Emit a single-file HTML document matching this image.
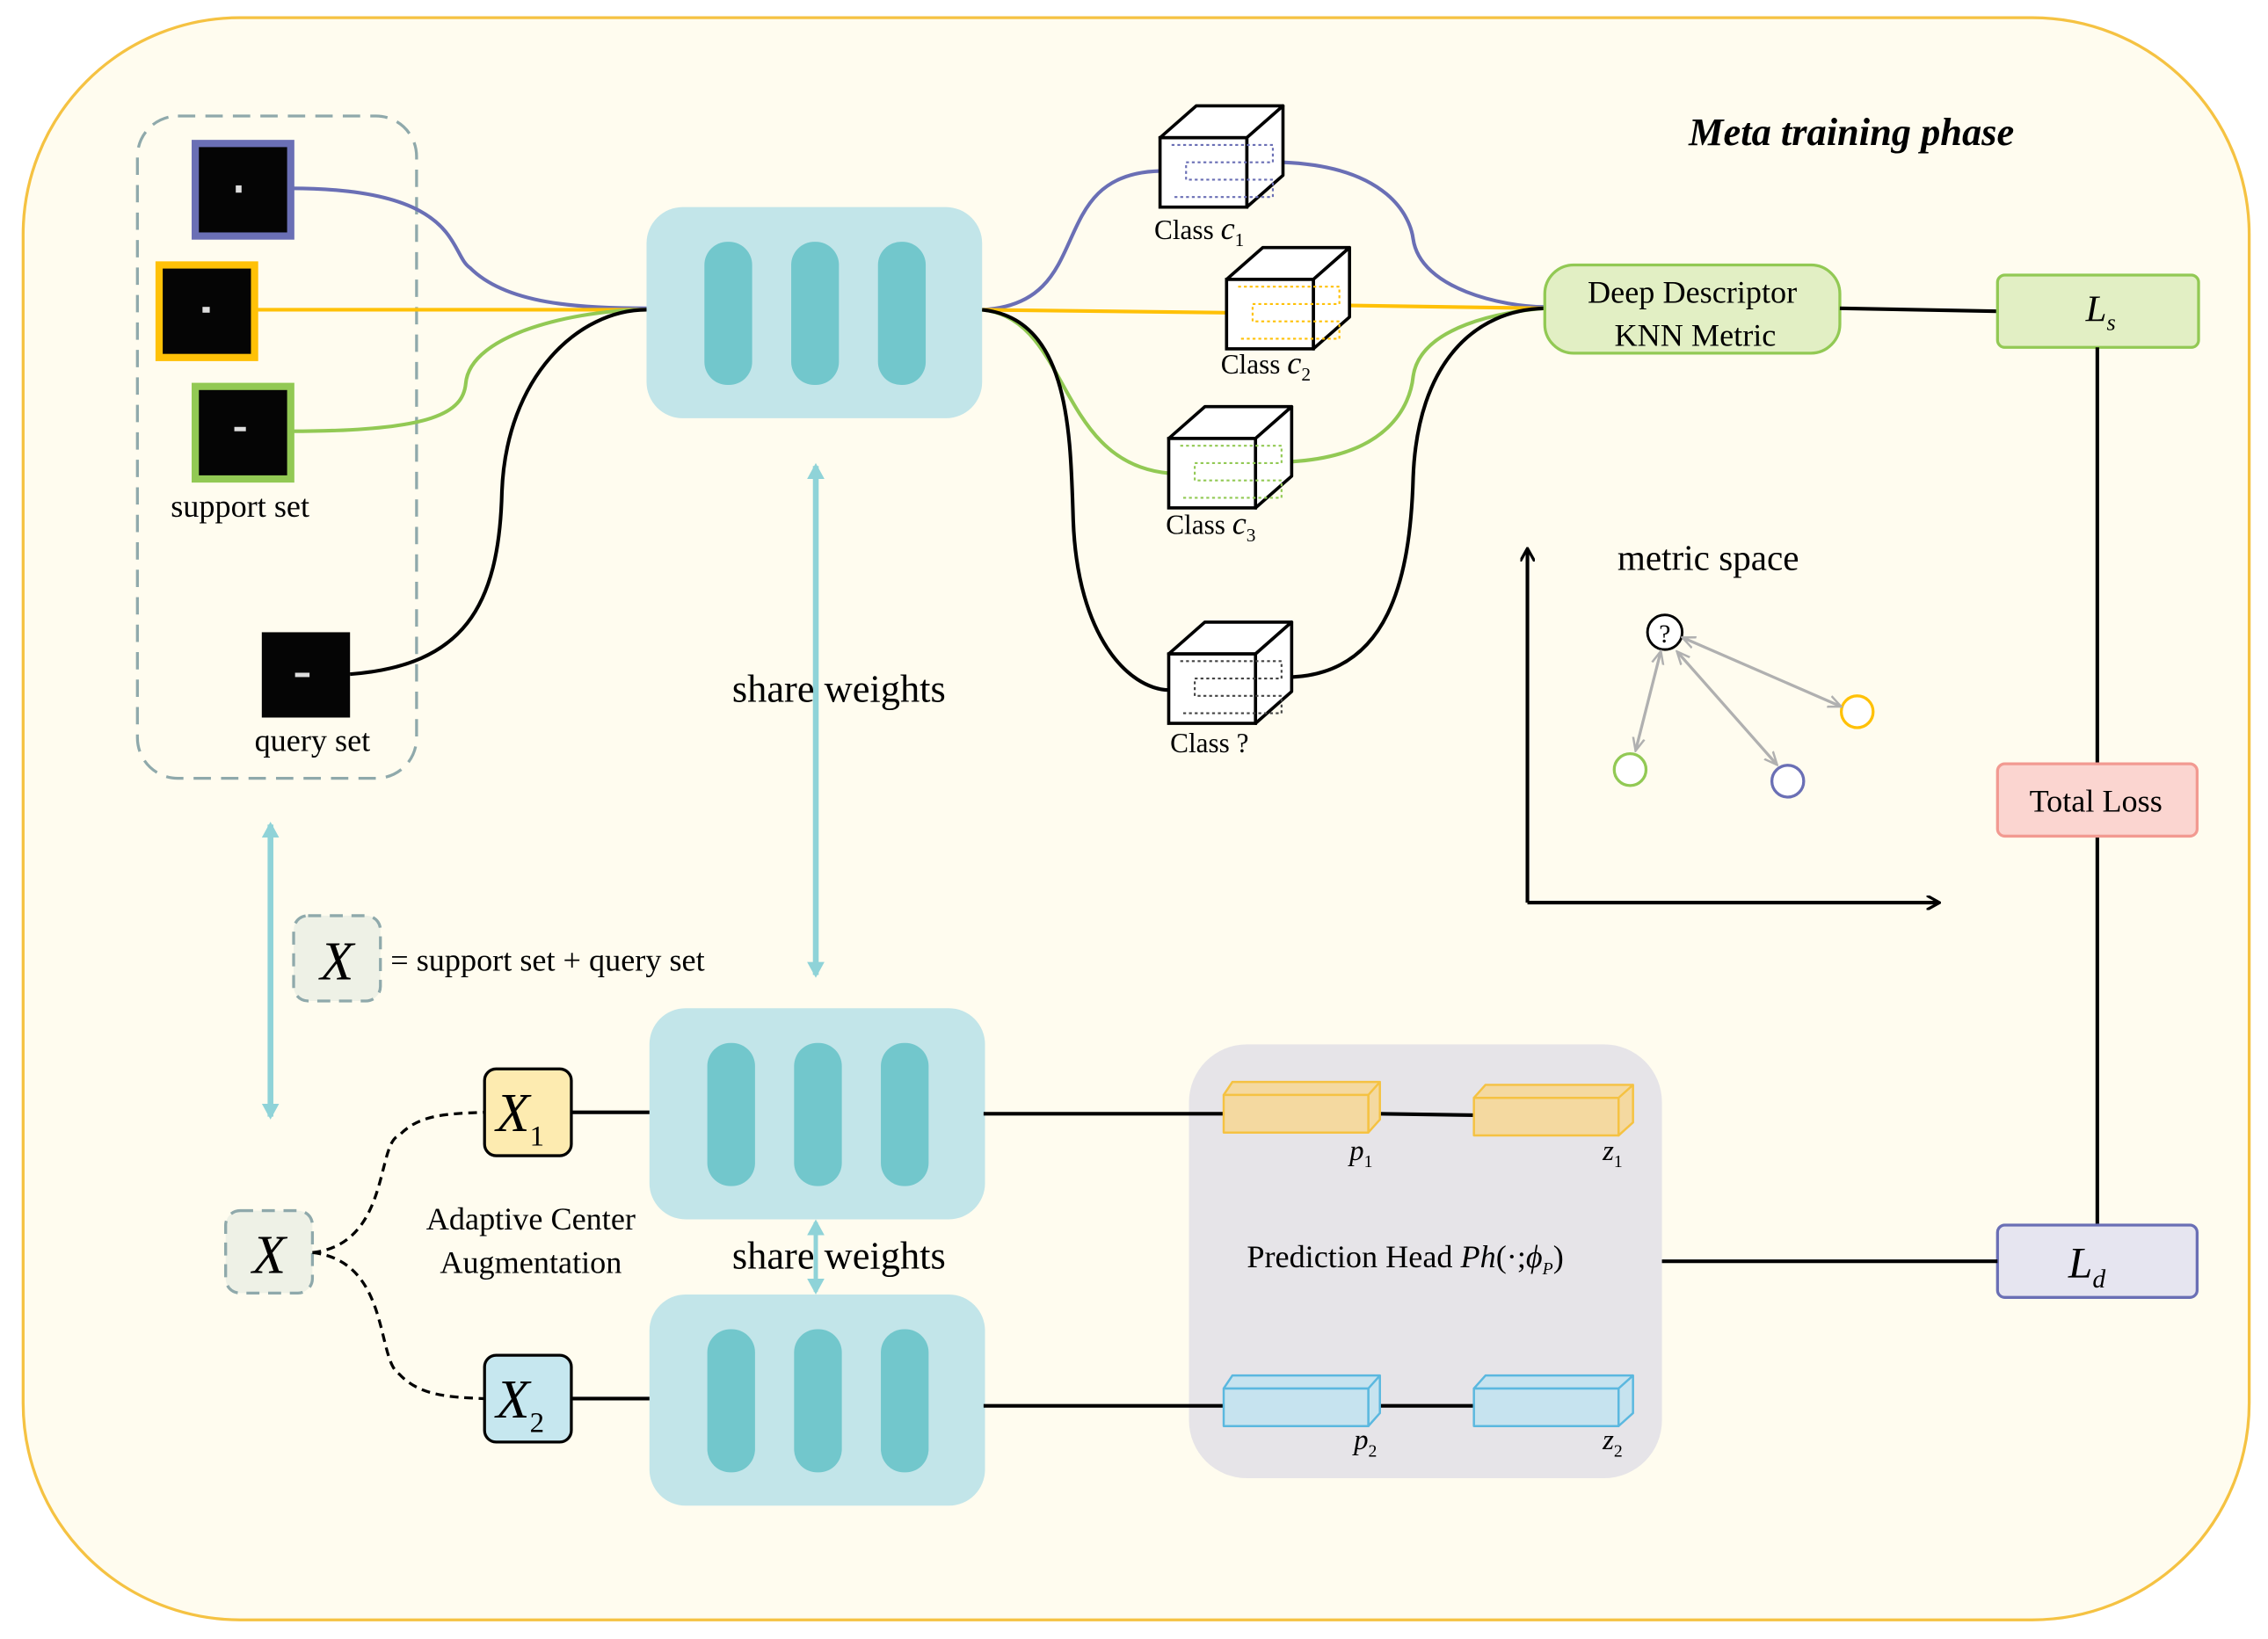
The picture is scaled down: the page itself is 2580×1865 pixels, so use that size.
<!DOCTYPE html>
<html><head><meta charset="utf-8"><style>html,body{margin:0;padding:0;background:#fff}svg{display:block}</style></head><body>
<svg width="2580" height="1865" viewBox="0 0 1568 1133" xmlns="http://www.w3.org/2000/svg" font-family="Liberation Serif, serif">
<defs>
<marker id="ak" markerWidth="10" markerHeight="10" refX="8" refY="5" orient="auto" markerUnits="userSpaceOnUse"><path d="M0,0 L9,5 L0,10" fill="none" stroke="#000" stroke-width="2"/></marker>
<marker id="ag" markerWidth="10" markerHeight="10" refX="8" refY="5" orient="auto-start-reverse" markerUnits="userSpaceOnUse"><path d="M0,1 L9,5 L0,9" fill="none" stroke="#b0b0b0" stroke-width="1.5"/></marker>
<marker id="at" markerWidth="12" markerHeight="12" refX="9" refY="6" orient="auto-start-reverse" markerUnits="userSpaceOnUse"><path d="M0,0 L11,6 L0,12 Z" fill="#8fd3d8"/></marker>
<g id="cube"><path d="M0,0 L25,-22 L85,-22 L60,0 Z" fill="#fff" stroke="#000" stroke-width="2.2" stroke-linejoin="round"/><path d="M60,0 L85,-22 L85,26 L60,48 Z" fill="#fff" stroke="#000" stroke-width="2.2" stroke-linejoin="round"/><rect x="0" y="0" width="60" height="48" fill="#fff" stroke="#000" stroke-width="2.2"/></g>
</defs>
<rect width="1568" height="1133" fill="#fff"/>
<rect x="16" y="12" width="1539" height="1108" rx="150" fill="#fffcef" stroke="#f5c242" stroke-width="2"/>
<text x="1280" y="100" font-size="27" font-weight="bold" font-style="italic" text-anchor="middle">Meta training phase</text>
<rect x="95" y="80" width="193" height="458" rx="28" fill="none" stroke="#8fa9ab" stroke-width="2" stroke-dasharray="12,7"/>
<rect x="135" y="99" width="66" height="64" fill="#050505" stroke="#6a6fb5" stroke-width="5"/>
<rect x="110" y="183" width="66" height="64" fill="#050505" stroke="#ffc107" stroke-width="5"/>
<rect x="135" y="267" width="66" height="64" fill="#050505" stroke="#92c954" stroke-width="5"/>
<rect x="181" y="437" width="61" height="59" fill="#050505"/>
<g fill="#ddd"><rect x="163" y="128" width="4" height="5"/><rect x="140" y="212" width="5" height="4"/><rect x="162" y="295" width="8" height="3"/><rect x="204" y="465" width="10" height="3"/></g>
<text x="166" y="357" font-size="22" text-anchor="middle">support set</text>
<text x="216" y="519" font-size="22" text-anchor="middle">query set</text>
<path d="M201,130 C320,130 310,175 325,185 C350,210 400,213 447,213" fill="none" stroke="#6a6fb5" stroke-width="2.5"/>
<path d="M176,214 L447,214" stroke="#ffc107" stroke-width="2.5"/>
<path d="M201,298 C300,298 320,285 322,265 C325,230 400,214 447,214" fill="none" stroke="#92c954" stroke-width="2.5"/>
<path d="M242,466 C320,460 345,420 347,340 C350,260 400,214 447,214" fill="none" stroke="#000" stroke-width="2.5"/>
<g id="enc"><rect x="447" y="143" width="232" height="146" rx="25" fill="#c2e5e9"/><rect x="487" y="167" width="33" height="99" rx="16" fill="#72c7cc"/><rect x="547" y="167" width="33" height="99" rx="16" fill="#72c7cc"/><rect x="607" y="167" width="33" height="99" rx="16" fill="#72c7cc"/></g>
<use href="#enc" x="2" y="554"/>
<use href="#enc" x="2" y="752"/>
<path d="M679,214 C760,210 720,120 802,118" fill="none" stroke="#6a6fb5" stroke-width="2.5"/>
<path d="M887,112 C960,115 975,150 977,165 C982,200 1040,212 1068,212" fill="none" stroke="#6a6fb5" stroke-width="2.5"/>
<path d="M679,214 L848,216" stroke="#ffc107" stroke-width="2.5"/>
<path d="M933,211 L1068,213" stroke="#ffc107" stroke-width="2.5"/>
<path d="M679,214 C740,220 730,320 808,327" fill="none" stroke="#92c954" stroke-width="2.5"/>
<path d="M893,319 C960,315 975,280 977,260 C982,225 1040,215 1068,213" fill="none" stroke="#92c954" stroke-width="2.5"/>
<path d="M679,214 C740,220 740,300 742,360 C745,440 780,476 808,477" fill="none" stroke="#000" stroke-width="2.5"/>
<path d="M893,468 C960,465 975,400 977,330 C980,250 1020,214 1068,213" fill="none" stroke="#000" stroke-width="2.5"/>
<use href="#cube" x="802" y="95"/><use href="#cube" x="848" y="193"/><use href="#cube" x="808" y="303"/><use href="#cube" x="808" y="452"/>
<g fill="none" stroke-width="1.3" stroke-dasharray="2,2">
<path d="M810,100 h70 v12 h-60 v12 h60 v12 h-70" stroke="#6a6fb5"/>
<path d="M856,198 h70 v12 h-60 v12 h60 v12 h-70" stroke="#ffc107"/>
<path d="M816,308 h70 v12 h-60 v12 h60 v12 h-70" stroke="#92c954"/>
<path d="M816,457 h70 v12 h-60 v12 h60 v12 h-70" stroke="#444"/>
</g>
<g font-size="19"><text x="798" y="165">Class <tspan font-style="italic" font-size="22">c</tspan><tspan font-size="13" dy="5">1</tspan></text>
<text x="844" y="258">Class <tspan font-style="italic" font-size="22">c</tspan><tspan font-size="13" dy="5">2</tspan></text>
<text x="806" y="369">Class <tspan font-style="italic" font-size="22">c</tspan><tspan font-size="13" dy="5">3</tspan></text>
<text x="809" y="520">Class  ?</text></g>
<rect x="1068" y="183" width="204" height="61" rx="20" fill="#e2efc4" stroke="#92c954" stroke-width="2"/>
<text x="1170" y="209" font-size="22" text-anchor="middle">Deep Descriptor</text>
<text x="1172" y="239" font-size="22" text-anchor="middle">KNN Metric</text>
<path d="M1272,213 L1381,215" stroke="#000" stroke-width="2.5"/>
<rect x="1381" y="190" width="139" height="50" rx="5" fill="#e2efc4" stroke="#92c954" stroke-width="2"/>
<text x="1442" y="222" font-size="26" font-style="italic">L<tspan font-size="16" dy="6">s</tspan></text>
<path d="M1450,240 V528 M1450,578 V847" stroke="#000" stroke-width="2.5"/>
<rect x="1381" y="528" width="138" height="50" rx="5" fill="#fbd5d0" stroke="#f29a91" stroke-width="2"/>
<text x="1449" y="561" font-size="22" text-anchor="middle">Total Loss</text>
<rect x="1381" y="847" width="138" height="50" rx="5" fill="#e6e5f0" stroke="#6a6fb5" stroke-width="2"/>
<text x="1430" y="883" font-size="30" font-style="italic">L<tspan font-size="18" dy="7">d</tspan></text>
<path d="M1056,624 V380" stroke="#000" stroke-width="2.5" marker-end="url(#ak)"/>
<path d="M1056,624 H1340" stroke="#000" stroke-width="2.5" marker-end="url(#ak)"/>
<text x="1181" y="394" font-size="25" text-anchor="middle">metric space</text>
<circle cx="1151" cy="437" r="12" fill="#fff" stroke="#000" stroke-width="1.8"/>
<text x="1151" y="444" font-size="18" text-anchor="middle">?</text>
<circle cx="1127" cy="532" r="11" fill="#fff" stroke="#92c954" stroke-width="2"/>
<circle cx="1236" cy="540" r="11" fill="#fff" stroke="#6a6fb5" stroke-width="2"/>
<circle cx="1284" cy="492" r="11" fill="#fff" stroke="#ffc107" stroke-width="2"/>
<g stroke="#b0b0b0" stroke-width="2" marker-start="url(#ag)" marker-end="url(#ag)">
<path d="M1148,451 L1131,518"/><path d="M1160,451 L1228,528"/><path d="M1164,441 L1272,488"/></g>
<path d="M564,322 V674" stroke="#8fd3d8" stroke-width="4" marker-start="url(#at)" marker-end="url(#at)"/>
<text x="580" y="485" font-size="27" text-anchor="middle">share weights</text>
<path d="M187,570 V772" stroke="#8fd3d8" stroke-width="4" marker-start="url(#at)" marker-end="url(#at)"/>
<path d="M564,845 V893" stroke="#8fd3d8" stroke-width="3" marker-start="url(#at)" marker-end="url(#at)"/>
<text x="580" y="877" font-size="27" text-anchor="middle">share weights</text>
<rect x="203" y="633" width="60" height="59" rx="10" fill="#eef1e6" stroke="#8fa9ab" stroke-width="2" stroke-dasharray="9,6"/>
<text x="233" y="677" font-size="38" font-style="italic" text-anchor="middle">X</text>
<text x="270" y="671" font-size="22">= support set + query set</text>
<rect x="156" y="837" width="60" height="57" rx="10" fill="#eef1e6" stroke="#8fa9ab" stroke-width="2" stroke-dasharray="9,6"/>
<text x="186" y="880" font-size="38" font-style="italic" text-anchor="middle">X</text>
<path d="M216,866 C270,860 260,790 276,785 C290,770 310,770 335,769" fill="none" stroke="#000" stroke-width="2" stroke-dasharray="6,4"/>
<path d="M216,866 C270,872 260,940 276,950 C290,965 310,966 335,967" fill="none" stroke="#000" stroke-width="2" stroke-dasharray="6,4"/>
<rect x="335" y="739" width="60" height="60" rx="8" fill="#fdebb0" stroke="#000" stroke-width="2"/>
<text x="343" y="782" font-size="38" font-style="italic">X<tspan font-size="20" font-style="normal" dy="10">1</tspan></text>
<rect x="335" y="937" width="60" height="60" rx="8" fill="#c6e7ef" stroke="#000" stroke-width="2"/>
<text x="343" y="980" font-size="38" font-style="italic">X<tspan font-size="20" font-style="normal" dy="10">2</tspan></text>
<text x="367" y="850" font-size="22" text-anchor="middle">Adaptive Center</text>
<text x="367" y="880" font-size="22" text-anchor="middle">Augmentation</text>
<path d="M395,769 H449 M395,967 H449" stroke="#000" stroke-width="2.5"/>
<rect x="822" y="722" width="327" height="300" rx="40" fill="#e6e4e8"/>
<path d="M680,770 H846 M680,972 H846 M953,770 L1019,771 M953,972 L1019,972 M1149,872 L1381,872" stroke="#000" stroke-width="2.5"/>
<g stroke-width="1.5" stroke-linejoin="round">
<path d="M846,757 l6,-9 h102 l-8,9 z M946,757 l8,-9 v26 l-8,9 z" fill="#f4d9a0" stroke="#f5c242"/><rect x="846" y="757" width="100" height="26" fill="#f4d9a0" stroke="#f5c242"/>
<path d="M1019,759 l8,-9 h102 l-10,9 z M1119,759 l10,-9 v26 l-10,9 z" fill="#f4d9a0" stroke="#f5c242"/><rect x="1019" y="759" width="100" height="26" fill="#f4d9a0" stroke="#f5c242"/>
<path d="M846,960 l6,-9 h102 l-8,9 z M946,960 l8,-9 v26 l-8,9 z" fill="#c6e3ef" stroke="#5bb8df"/><rect x="846" y="960" width="100" height="26" fill="#c6e3ef" stroke="#5bb8df"/>
<path d="M1019,960 l8,-9 h102 l-10,9 z M1119,960 l10,-9 v26 l-10,9 z" fill="#c6e3ef" stroke="#5bb8df"/><rect x="1019" y="960" width="100" height="26" fill="#c6e3ef" stroke="#5bb8df"/></g>
<g font-size="20" font-style="italic"><text x="933" y="802">p<tspan font-size="12" font-style="normal" dy="5">1</tspan></text>
<text x="1108" y="802">z<tspan font-size="12" font-style="normal" dy="5">1</tspan></text>
<text x="936" y="1002">p<tspan font-size="12" font-style="normal" dy="5">2</tspan></text>
<text x="1108" y="1002">z<tspan font-size="12" font-style="normal" dy="5">2</tspan></text></g>
<text x="862" y="876" font-size="22">Prediction Head <tspan font-style="italic">Ph</tspan>(·;<tspan font-style="italic">ϕ</tspan><tspan font-size="12" font-style="italic" dy="5">P</tspan><tspan dy="-5">)</tspan></text>
</svg>
</body></html>
